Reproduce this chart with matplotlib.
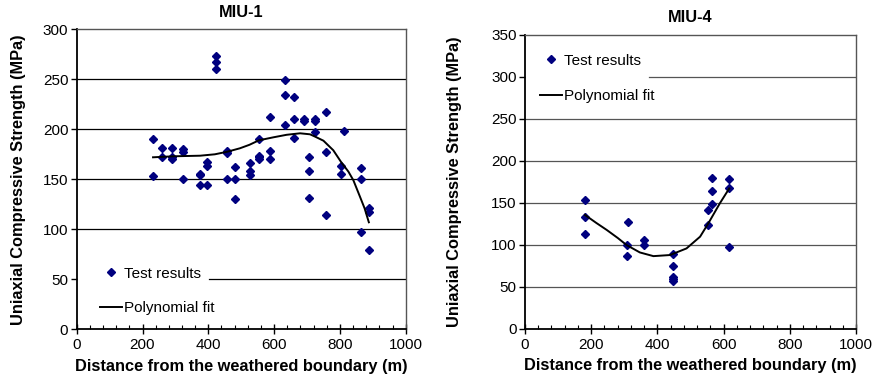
import matplotlib
matplotlib.use("Agg")
import matplotlib.pyplot as plt
from matplotlib.ticker import MultipleLocator

plt.rcParams['font.family'] = ['Liberation Sans', 'DejaVu Sans']

# ---------------- data: MIU-1 ----------------
miu1_x = [232, 232, 258, 258, 291, 291, 291, 324, 324, 324,
          374, 374, 374, 395, 395, 395, 423, 423, 423,
          458, 458, 458, 481, 481, 481, 527, 527, 527,
          554, 554, 554, 554, 588, 588, 588, 632, 632, 632,
          660, 660, 660, 692, 692, 725, 725, 725, 758, 758, 758,
          707, 707, 707, 811, 803, 803, 864, 864, 864, 888, 888, 888]
miu1_y = [190, 153, 181, 172, 181, 172, 170, 180, 177, 150,
          155, 154, 144, 167, 163, 144, 273, 267, 260,
          178, 176, 150, 162, 150, 130, 166, 158, 154,
          190, 173, 172, 170, 212, 178, 170, 249, 234, 204,
          232, 210, 191, 210, 208, 210, 208, 197, 217, 177, 114,
          172, 158, 131, 198, 163, 155, 161, 150, 97, 121, 117, 79]
miu1_fit_x = [232, 294, 375, 420, 458, 496, 525, 554, 598, 638, 679, 709,
              725, 750, 780, 803, 826, 841, 861, 875, 888]
miu1_fit_y = [172, 173, 173.6, 175, 177.6, 181, 184.5, 189, 192, 194.5, 196, 195,
              192.6, 188.6, 179, 167.6, 157.6, 149, 132.6, 121, 107]

# ---------------- data: MIU-4 ----------------
miu4_x = [181, 181, 181, 312, 309, 309, 361, 361,
          448, 446, 446, 446, 446, 552, 552, 566, 566, 566,
          617, 617, 617]
miu4_y = [153, 133.5, 113, 127, 99, 86, 106, 99,
          89, 75, 62, 59, 57, 141.5, 124, 179, 164, 148,
          178, 167, 97.5]
miu4_fit_x = [181, 215, 247, 280, 307, 347, 388, 438, 488, 529, 554, 589, 617]
miu4_fit_y = [135.5, 126, 117.5, 108, 99.5, 90.7, 86.3, 87.6, 95.5, 109.5, 125.5, 149.5, 167]

titles = ["MIU-1", "MIU-4"]
xlabel = "Distance from the weathered boundary (m)"
ylabel = "Uniaxial Compressive Strength (MPa)"
legend_labels = ["Test results", "Polynomial fit"]

W, H = 876, 384
fig = plt.figure(figsize=(W / 100, H / 100), dpi=100)

def px_axes(x0, y0, x1, y1):
    return fig.add_axes([x0 / W, 1 - y1 / H, (x1 - x0) / W, (y1 - y0) / H])

ax1 = px_axes(76.7, 29.3, 405.7, 329.3)
ax2 = px_axes(525, 35, 856, 328.5)

marker_color = "#00007F"
FS_TICK = 11
FS_LAB = 11.8
FS_YLAB = 11.8
FS_LEG = 11

def style(ax, ymax, ystep, gridc, title, grid_cut, leg_pos, ylab_x, lspace):
    ax.set_xlim(0, 1000)
    ax.set_ylim(0, ymax)
    ax.xaxis.set_major_locator(MultipleLocator(200))
    ax.xaxis.set_minor_locator(MultipleLocator(40))
    ax.yaxis.set_major_locator(MultipleLocator(ystep))
    ax.tick_params(axis='x', which='major', direction='inout', length=7, width=1,
                   labelsize=FS_TICK, pad=3)
    ax.tick_params(axis='x', which='minor', direction='in', length=3, width=0.8)
    ax.tick_params(axis='y', which='major', direction='out', length=4, width=1,
                   labelsize=FS_TICK, pad=2)
    for v in range(ystep, ymax, ystep):
        xmin = grid_cut[1] if v == grid_cut[0] else 0
        ax.axhline(v, xmin=xmin, color=gridc, lw=0.9, zorder=0)
    ax.spines['left'].set_linewidth(1.3)
    ax.spines['bottom'].set_linewidth(1.3)
    for s in ('top', 'right'):
        ax.spines[s].set_color('#555555')
        ax.spines[s].set_linewidth(1.0)
    ax.set_title(title, fontsize=FS_LAB, fontweight='bold', pad=9)
    ax.set_xlabel(xlabel, fontsize=FS_LAB, fontweight='bold', labelpad=5)
    ax.set_ylabel(ylabel, fontsize=FS_YLAB, fontweight='bold')
    ax.yaxis.set_label_coords(ylab_x, 0.5)
    ax.legend(loc='center left', bbox_to_anchor=leg_pos, fontsize=FS_LEG,
              frameon=False, handlelength=1.45, handletextpad=0.1,
              labelspacing=lspace, borderpad=0, borderaxespad=0)

ax1.plot(miu1_x, miu1_y, linestyle='none', marker='D', ms=4,
         color=marker_color, label=legend_labels[0], zorder=3)
ax1.plot(miu1_fit_x, miu1_fit_y, color='black', lw=1.4,
         label=legend_labels[1], zorder=4)
style(ax1, 300, 50, 'black', titles[0], (50, 0.402), (0.071, 0.128), -0.155, 1.35)

ax2.plot(miu4_x, miu4_y, linestyle='none', marker='D', ms=4,
         color=marker_color, label=legend_labels[0], zorder=3)
ax2.plot(miu4_fit_x, miu4_fit_y, color='black', lw=1.4,
         label=legend_labels[1], zorder=4)
style(ax2, 350, 50, '#555555', titles[1], (300, 0.375), (0.045, 0.852), -0.19, 1.4)

fig.savefig("out.png", dpi=100)
